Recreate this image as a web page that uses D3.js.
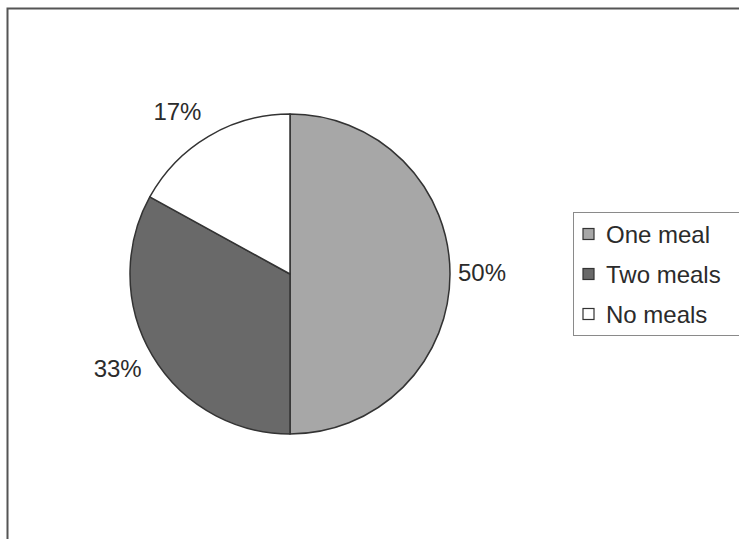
<!DOCTYPE html>
<html>
<head>
<meta charset="utf-8">
<script src="https://cdn.jsdelivr.net/npm/d3@7"></script>
<style>
  body { margin: 0; background: #fff; }
  text { font-family: "Liberation Sans", Arial, sans-serif; fill: #2b2b2b; }
</style>
</head>
<body>
<svg id="chart" width="739" height="539"></svg>
<script>
// data
var categories = ["One meal", "Two meals", "No meals"];
var shares = [50, 33, 17];
var labels = ["50%", "33%", "17%"];
var colors = ["#a7a7a7", "#696969", "#ffffff"];

var svg = d3.select("#chart");

// outer chart frame (cropped at right and bottom)
svg.append("rect")
    .attr("x", 7.5).attr("y", 8.5)
    .attr("width", 760).attr("height", 560)
    .attr("fill", "#fff")
    .attr("stroke", "#555")
    .attr("stroke-width", 2);

var cx = 290, cy = 274, radius = 160;

var pie = d3.pie().sort(null).value(function (d) { return d; });
var arcs = pie(shares);

var arc = d3.arc().innerRadius(0).outerRadius(radius);

var g = svg.append("g").attr("transform", "translate(" + cx + "," + cy + ")");

g.selectAll("path")
    .data(arcs)
    .enter()
    .append("path")
    .attr("d", arc)
    .attr("fill", function (d, i) { return colors[i]; })
    .attr("stroke", "#333")
    .attr("stroke-width", 1.5)
    .attr("stroke-linejoin", "round");

// labels outside the rim: left side anchored at end, right side at start
var labelR = 170;
g.selectAll("text.lbl")
    .data(arcs)
    .enter()
    .append("text")
    .attr("class", "lbl")
    .attr("font-size", 24)
    .attr("dy", "0.35em")
    .attr("text-anchor", function (d) {
        var a = (d.startAngle + d.endAngle) / 2;
        return Math.sin(a) > 0 ? "start" : "end";
    })
    .attr("x", function (d) {
        var a = (d.startAngle + d.endAngle) / 2;
        return labelR * Math.sin(a) - 2;
    })
    .attr("y", function (d) {
        var a = (d.startAngle + d.endAngle) / 2;
        return -(labelR + 18) * Math.cos(a) - 1;
    })
    .text(function (d, i) { return labels[i]; });

// legend
var legend = svg.append("g").attr("transform", "translate(573,212)");
legend.append("rect")
    .attr("x", 0.5).attr("y", 0.5)
    .attr("width", 200).attr("height", 123)
    .attr("fill", "#fff")
    .attr("stroke", "#8a8a8a")
    .attr("stroke-width", 1);

var rowY = d3.scalePoint().domain(categories).range([22, 102]);

var items = legend.selectAll("g.item")
    .data(categories)
    .enter()
    .append("g")
    .attr("class", "item")
    .attr("transform", function (d) { return "translate(0," + rowY(d) + ")"; });

items.append("rect")
    .attr("x", 10).attr("y", -5.5)
    .attr("width", 11).attr("height", 11)
    .attr("fill", function (d, i) { return colors[i]; })
    .attr("stroke", "#333")
    .attr("stroke-width", 1.2);

items.append("text")
    .attr("x", 33)
    .attr("y", 8.5)
    .attr("font-size", 24)
    .text(function (d) { return d; });
</script>
</body>
</html>
